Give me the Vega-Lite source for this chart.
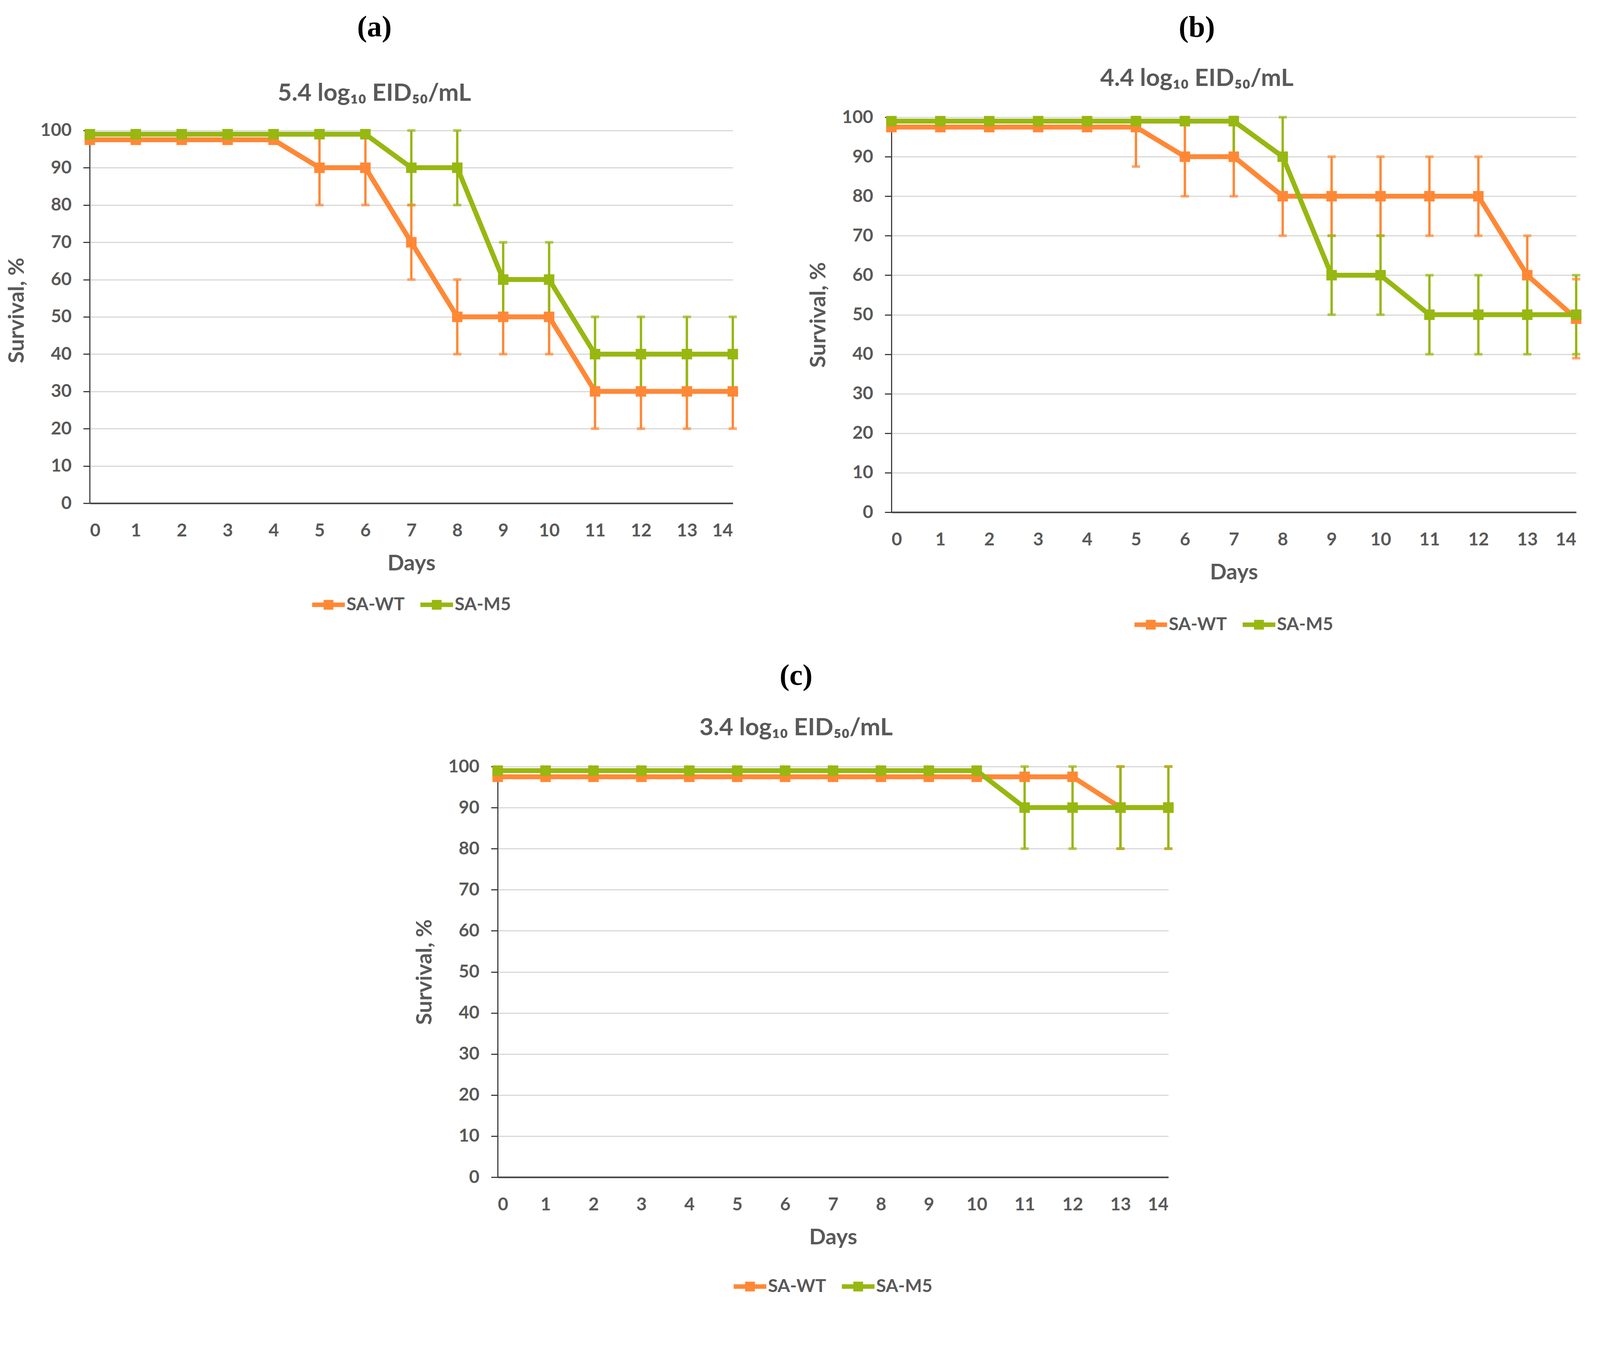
{
  "$schema": "https://vega.github.io/schema/vega-lite/v6.json",
  "padding": {"left": 15, "top": 32, "right": 10, "bottom": 10},
  "background": "white",
  "datasets": {
    "lines": [
      {"panel": "a", "series": "SA-WT", "day": 0, "value": 97.5},
      {"panel": "a", "series": "SA-WT", "day": 1, "value": 97.5},
      {"panel": "a", "series": "SA-WT", "day": 2, "value": 97.5},
      {"panel": "a", "series": "SA-WT", "day": 3, "value": 97.5},
      {"panel": "a", "series": "SA-WT", "day": 4, "value": 97.5},
      {"panel": "a", "series": "SA-WT", "day": 5, "value": 90},
      {"panel": "a", "series": "SA-WT", "day": 6, "value": 90},
      {"panel": "a", "series": "SA-WT", "day": 7, "value": 70},
      {"panel": "a", "series": "SA-WT", "day": 8, "value": 50},
      {"panel": "a", "series": "SA-WT", "day": 9, "value": 50},
      {"panel": "a", "series": "SA-WT", "day": 10, "value": 50},
      {"panel": "a", "series": "SA-WT", "day": 11, "value": 30},
      {"panel": "a", "series": "SA-WT", "day": 12, "value": 30},
      {"panel": "a", "series": "SA-WT", "day": 13, "value": 30},
      {"panel": "a", "series": "SA-WT", "day": 14, "value": 30},
      {"panel": "a", "series": "SA-M5", "day": 0, "value": 99},
      {"panel": "a", "series": "SA-M5", "day": 1, "value": 99},
      {"panel": "a", "series": "SA-M5", "day": 2, "value": 99},
      {"panel": "a", "series": "SA-M5", "day": 3, "value": 99},
      {"panel": "a", "series": "SA-M5", "day": 4, "value": 99},
      {"panel": "a", "series": "SA-M5", "day": 5, "value": 99},
      {"panel": "a", "series": "SA-M5", "day": 6, "value": 99},
      {"panel": "a", "series": "SA-M5", "day": 7, "value": 90},
      {"panel": "a", "series": "SA-M5", "day": 8, "value": 90},
      {"panel": "a", "series": "SA-M5", "day": 9, "value": 60},
      {"panel": "a", "series": "SA-M5", "day": 10, "value": 60},
      {"panel": "a", "series": "SA-M5", "day": 11, "value": 40},
      {"panel": "a", "series": "SA-M5", "day": 12, "value": 40},
      {"panel": "a", "series": "SA-M5", "day": 13, "value": 40},
      {"panel": "a", "series": "SA-M5", "day": 14, "value": 40},
      {"panel": "b", "series": "SA-WT", "day": 0, "value": 97.5},
      {"panel": "b", "series": "SA-WT", "day": 1, "value": 97.5},
      {"panel": "b", "series": "SA-WT", "day": 2, "value": 97.5},
      {"panel": "b", "series": "SA-WT", "day": 3, "value": 97.5},
      {"panel": "b", "series": "SA-WT", "day": 4, "value": 97.5},
      {"panel": "b", "series": "SA-WT", "day": 5, "value": 97.5},
      {"panel": "b", "series": "SA-WT", "day": 6, "value": 90},
      {"panel": "b", "series": "SA-WT", "day": 7, "value": 90},
      {"panel": "b", "series": "SA-WT", "day": 8, "value": 80},
      {"panel": "b", "series": "SA-WT", "day": 9, "value": 80},
      {"panel": "b", "series": "SA-WT", "day": 10, "value": 80},
      {"panel": "b", "series": "SA-WT", "day": 11, "value": 80},
      {"panel": "b", "series": "SA-WT", "day": 12, "value": 80},
      {"panel": "b", "series": "SA-WT", "day": 13, "value": 60},
      {"panel": "b", "series": "SA-WT", "day": 14, "value": 49},
      {"panel": "b", "series": "SA-M5", "day": 0, "value": 99},
      {"panel": "b", "series": "SA-M5", "day": 1, "value": 99},
      {"panel": "b", "series": "SA-M5", "day": 2, "value": 99},
      {"panel": "b", "series": "SA-M5", "day": 3, "value": 99},
      {"panel": "b", "series": "SA-M5", "day": 4, "value": 99},
      {"panel": "b", "series": "SA-M5", "day": 5, "value": 99},
      {"panel": "b", "series": "SA-M5", "day": 6, "value": 99},
      {"panel": "b", "series": "SA-M5", "day": 7, "value": 99},
      {"panel": "b", "series": "SA-M5", "day": 8, "value": 90},
      {"panel": "b", "series": "SA-M5", "day": 9, "value": 60},
      {"panel": "b", "series": "SA-M5", "day": 10, "value": 60},
      {"panel": "b", "series": "SA-M5", "day": 11, "value": 50},
      {"panel": "b", "series": "SA-M5", "day": 12, "value": 50},
      {"panel": "b", "series": "SA-M5", "day": 13, "value": 50},
      {"panel": "b", "series": "SA-M5", "day": 14, "value": 50},
      {"panel": "c", "series": "SA-WT", "day": 0, "value": 97.5},
      {"panel": "c", "series": "SA-WT", "day": 1, "value": 97.5},
      {"panel": "c", "series": "SA-WT", "day": 2, "value": 97.5},
      {"panel": "c", "series": "SA-WT", "day": 3, "value": 97.5},
      {"panel": "c", "series": "SA-WT", "day": 4, "value": 97.5},
      {"panel": "c", "series": "SA-WT", "day": 5, "value": 97.5},
      {"panel": "c", "series": "SA-WT", "day": 6, "value": 97.5},
      {"panel": "c", "series": "SA-WT", "day": 7, "value": 97.5},
      {"panel": "c", "series": "SA-WT", "day": 8, "value": 97.5},
      {"panel": "c", "series": "SA-WT", "day": 9, "value": 97.5},
      {"panel": "c", "series": "SA-WT", "day": 10, "value": 97.5},
      {"panel": "c", "series": "SA-WT", "day": 11, "value": 97.5},
      {"panel": "c", "series": "SA-WT", "day": 12, "value": 97.5},
      {"panel": "c", "series": "SA-WT", "day": 13, "value": 90},
      {"panel": "c", "series": "SA-WT", "day": 14, "value": 90},
      {"panel": "c", "series": "SA-M5", "day": 0, "value": 99},
      {"panel": "c", "series": "SA-M5", "day": 1, "value": 99},
      {"panel": "c", "series": "SA-M5", "day": 2, "value": 99},
      {"panel": "c", "series": "SA-M5", "day": 3, "value": 99},
      {"panel": "c", "series": "SA-M5", "day": 4, "value": 99},
      {"panel": "c", "series": "SA-M5", "day": 5, "value": 99},
      {"panel": "c", "series": "SA-M5", "day": 6, "value": 99},
      {"panel": "c", "series": "SA-M5", "day": 7, "value": 99},
      {"panel": "c", "series": "SA-M5", "day": 8, "value": 99},
      {"panel": "c", "series": "SA-M5", "day": 9, "value": 99},
      {"panel": "c", "series": "SA-M5", "day": 10, "value": 99},
      {"panel": "c", "series": "SA-M5", "day": 11, "value": 90},
      {"panel": "c", "series": "SA-M5", "day": 12, "value": 90},
      {"panel": "c", "series": "SA-M5", "day": 13, "value": 90},
      {"panel": "c", "series": "SA-M5", "day": 14, "value": 90}
    ],
    "errs": [
      {"panel": "a", "series": "SA-WT", "day": 5, "lo": 80, "hi": 100},
      {"panel": "a", "series": "SA-WT", "day": 6, "lo": 80, "hi": 100},
      {"panel": "a", "series": "SA-WT", "day": 7, "lo": 60, "hi": 80},
      {"panel": "a", "series": "SA-WT", "day": 8, "lo": 40, "hi": 60},
      {"panel": "a", "series": "SA-WT", "day": 9, "lo": 40, "hi": 60},
      {"panel": "a", "series": "SA-WT", "day": 10, "lo": 40, "hi": 60},
      {"panel": "a", "series": "SA-WT", "day": 11, "lo": 20, "hi": 40},
      {"panel": "a", "series": "SA-WT", "day": 12, "lo": 20, "hi": 40},
      {"panel": "a", "series": "SA-WT", "day": 13, "lo": 20, "hi": 40},
      {"panel": "a", "series": "SA-WT", "day": 14, "lo": 20, "hi": 40},
      {"panel": "a", "series": "SA-M5", "day": 7, "lo": 80, "hi": 100},
      {"panel": "a", "series": "SA-M5", "day": 8, "lo": 80, "hi": 100},
      {"panel": "a", "series": "SA-M5", "day": 9, "lo": 50, "hi": 70},
      {"panel": "a", "series": "SA-M5", "day": 10, "lo": 50, "hi": 70},
      {"panel": "a", "series": "SA-M5", "day": 11, "lo": 30, "hi": 50},
      {"panel": "a", "series": "SA-M5", "day": 12, "lo": 30, "hi": 50},
      {"panel": "a", "series": "SA-M5", "day": 13, "lo": 30, "hi": 50},
      {"panel": "a", "series": "SA-M5", "day": 14, "lo": 30, "hi": 50},
      {"panel": "b", "series": "SA-WT", "day": 5, "lo": 87.5, "hi": 100},
      {"panel": "b", "series": "SA-WT", "day": 6, "lo": 80, "hi": 100},
      {"panel": "b", "series": "SA-WT", "day": 7, "lo": 80, "hi": 100},
      {"panel": "b", "series": "SA-WT", "day": 8, "lo": 70, "hi": 90},
      {"panel": "b", "series": "SA-WT", "day": 9, "lo": 70, "hi": 90},
      {"panel": "b", "series": "SA-WT", "day": 10, "lo": 70, "hi": 90},
      {"panel": "b", "series": "SA-WT", "day": 11, "lo": 70, "hi": 90},
      {"panel": "b", "series": "SA-WT", "day": 12, "lo": 70, "hi": 90},
      {"panel": "b", "series": "SA-WT", "day": 13, "lo": 50, "hi": 70},
      {"panel": "b", "series": "SA-WT", "day": 14, "lo": 39, "hi": 59},
      {"panel": "b", "series": "SA-M5", "day": 7, "lo": 89, "hi": 100},
      {"panel": "b", "series": "SA-M5", "day": 8, "lo": 80, "hi": 100},
      {"panel": "b", "series": "SA-M5", "day": 9, "lo": 50, "hi": 70},
      {"panel": "b", "series": "SA-M5", "day": 10, "lo": 50, "hi": 70},
      {"panel": "b", "series": "SA-M5", "day": 11, "lo": 40, "hi": 60},
      {"panel": "b", "series": "SA-M5", "day": 12, "lo": 40, "hi": 60},
      {"panel": "b", "series": "SA-M5", "day": 13, "lo": 40, "hi": 60},
      {"panel": "b", "series": "SA-M5", "day": 14, "lo": 40, "hi": 60},
      {"panel": "c", "series": "SA-WT", "day": 13, "lo": 80, "hi": 100},
      {"panel": "c", "series": "SA-WT", "day": 14, "lo": 80, "hi": 100},
      {"panel": "c", "series": "SA-M5", "day": 11, "lo": 80, "hi": 100},
      {"panel": "c", "series": "SA-M5", "day": 12, "lo": 80, "hi": 100},
      {"panel": "c", "series": "SA-M5", "day": 13, "lo": 80, "hi": 100},
      {"panel": "c", "series": "SA-M5", "day": 14, "lo": 80, "hi": 100}
    ]
  },
  "config": {
    "font": "Lato",
    "view": {"stroke": null},
    "axis": {
      "labelFont": "Lato", "labelFontWeight": "bold", "labelFontSize": 46, "labelColor": "#595959",
      "titleFont": "Lato", "titleFontWeight": "bold", "titleFontSize": 56, "titleColor": "#595959",
      "domainColor": "#404040", "domainWidth": 3, "tickColor": "#404040", "tickWidth": 3,
      "gridColor": "#D9D9D9", "gridWidth": 3
    },
    "axisX": {"grid": false, "ticks": false, "labelPadding": 48, "titlePadding": 34, "domainWidth": 4},
    "axisY": {"tickSize": 17, "labelPadding": 30, "titlePadding": 30},
    "legend": {
      "orient": "bottom", "direction": "horizontal",
      "layout": {"anchor": "middle", "bottom": {"anchor": "middle"}},
      "labelFont": "Lato", "labelFontWeight": "bold", "labelFontSize": 46, "labelColor": "#595959",
      "symbolType": "M-1,-0.14H1V0.14H-1Z M-0.3,-0.3H0.3V0.3H-0.3Z",
      "symbolSize": 7000, "symbolStrokeWidth": 0, "symbolOpacity": 1, "labelOffset": 4, "columnPadding": 40
    },
    "title": {
      "font": "Liberation Serif", "fontSize": 76, "fontWeight": "bold", "color": "#000000",
      "subtitleFont": "Lato", "subtitleFontSize": 62, "subtitleFontWeight": "bold", "subtitleColor": "#595959",
      "frame": "bounds", "anchor": "middle"
    }
  },
  "resolve": {"scale": {"color": "independent", "x": "independent", "y": "independent"}},
  "spacing": 70,
  "center": true,
  "vconcat": [
    {
      "spacing": 166,
      "resolve": {"scale": {"color": "independent", "x": "independent", "y": "independent"}},
      "hconcat": [
        {
          "width": 1646, "height": 988,
          "title": {"text": "(a)", "subtitle": "5.4 log₁₀ EID₅₀/mL", "subtitlePadding": 100, "offset": 29},
          "encoding": {
            "x": {"field": "day", "type": "quantitative", "title": "Days", "scale": {"domain": [0, 14], "nice": false}, "axis": {"values": [0,1,2,3,4,5,6,7,8,9,10,11,12,13,14]}},
            "color": {"field": "series", "type": "nominal", "title": null, "scale": {"domain": ["SA-WT", "SA-M5"], "range": ["#FF8836", "#97B711"]}, "legend": {"offset": 36}}
          },
          "layer": [
            {"data": {"name": "errs"}, "transform": [{"filter": "datum.panel === 'a'"}], "mark": {"type": "rule", "strokeWidth": 6}, "encoding": {"y": {"field": "lo", "type": "quantitative", "title": "Survival, %", "scale": {"domain": [0, 103.56], "nice": false, "zero": false}, "axis": {"values": [0,10,20,30,40,50,60,70,80,90,100], "domain": false}}, "y2": {"field": "hi"}}},
            {"data": {"name": "errs"}, "transform": [{"filter": "datum.panel === 'a'"}], "mark": {"type": "tick", "orient": "horizontal", "size": 21, "thickness": 7}, "encoding": {"y": {"field": "lo", "type": "quantitative"}}},
            {"data": {"name": "errs"}, "transform": [{"filter": "datum.panel === 'a'"}], "mark": {"type": "tick", "orient": "horizontal", "size": 21, "thickness": 7}, "encoding": {"y": {"field": "hi", "type": "quantitative"}}},
            {"data": {"values": [{"day": 0, "lo": 0, "hi": 100}]}, "mark": {"type": "rule", "strokeWidth": 3}, "encoding": {"y": {"field": "lo", "type": "quantitative"}, "y2": {"field": "hi"}, "color": {"value": "#404040"}}},
            {"data": {"name": "lines"}, "transform": [{"filter": "datum.panel === 'a'"}], "mark": {"type": "line", "strokeWidth": 12.5}, "encoding": {"y": {"field": "value", "type": "quantitative"}}},
            {"data": {"name": "lines"}, "transform": [{"filter": "datum.panel === 'a'"}], "mark": {"type": "point", "shape": "square", "filled": true, "size": 720, "opacity": 1}, "encoding": {"y": {"field": "value", "type": "quantitative"}}}
          ]
        },
        {
          "width": 1753, "height": 1011,
          "title": {"text": "(b)", "subtitle": "4.4 log₁₀ EID₅₀/mL", "subtitlePadding": 61, "offset": 44},
          "encoding": {
            "x": {"field": "day", "type": "quantitative", "title": "Days", "scale": {"domain": [0, 14], "nice": false}, "axis": {"values": [0,1,2,3,4,5,6,7,8,9,10,11,12,13,14]}},
            "color": {"field": "series", "type": "nominal", "title": null, "scale": {"domain": ["SA-WT", "SA-M5"], "range": ["#FF8836", "#97B711"]}, "legend": {"offset": 64}}
          },
          "layer": [
            {"data": {"name": "errs"}, "transform": [{"filter": "datum.panel === 'b'"}], "mark": {"type": "rule", "strokeWidth": 6}, "encoding": {"y": {"field": "lo", "type": "quantitative", "title": "Survival, %", "scale": {"domain": [0, 100], "nice": false}, "axis": {"values": [0,10,20,30,40,50,60,70,80,90,100]}}, "y2": {"field": "hi"}}},
            {"data": {"name": "errs"}, "transform": [{"filter": "datum.panel === 'b'"}], "mark": {"type": "tick", "orient": "horizontal", "size": 21, "thickness": 7}, "encoding": {"y": {"field": "lo", "type": "quantitative"}}},
            {"data": {"name": "errs"}, "transform": [{"filter": "datum.panel === 'b'"}], "mark": {"type": "tick", "orient": "horizontal", "size": 21, "thickness": 7}, "encoding": {"y": {"field": "hi", "type": "quantitative"}}},
            {"data": {"name": "lines"}, "transform": [{"filter": "datum.panel === 'b'"}], "mark": {"type": "line", "strokeWidth": 12.5}, "encoding": {"y": {"field": "value", "type": "quantitative"}}},
            {"data": {"name": "lines"}, "transform": [{"filter": "datum.panel === 'b'"}], "mark": {"type": "point", "shape": "square", "filled": true, "size": 720, "opacity": 1}, "encoding": {"y": {"field": "value", "type": "quantitative"}}}
          ]
        }
      ]
    },
    {
      "width": 1717, "height": 1051,
      "title": {"text": "(c)", "subtitle": "3.4 log₁₀ EID₅₀/mL", "subtitlePadding": 64, "offset": 44},
      "encoding": {
        "x": {"field": "day", "type": "quantitative", "title": "Days", "scale": {"domain": [0, 14], "nice": false}, "axis": {"values": [0,1,2,3,4,5,6,7,8,9,10,11,12,13,14]}},
        "color": {"field": "series", "type": "nominal", "title": null, "scale": {"domain": ["SA-WT", "SA-M5"], "range": ["#FF8836", "#97B711"]}, "legend": {"offset": 56}}
      },
      "layer": [
        {"data": {"name": "errs"}, "transform": [{"filter": "datum.panel === 'c'"}], "mark": {"type": "rule", "strokeWidth": 6}, "encoding": {"y": {"field": "lo", "type": "quantitative", "title": "Survival, %", "scale": {"domain": [0, 100], "nice": false}, "axis": {"values": [0,10,20,30,40,50,60,70,80,90,100]}}, "y2": {"field": "hi"}}},
        {"data": {"name": "errs"}, "transform": [{"filter": "datum.panel === 'c'"}], "mark": {"type": "tick", "orient": "horizontal", "size": 21, "thickness": 7}, "encoding": {"y": {"field": "lo", "type": "quantitative"}}},
        {"data": {"name": "errs"}, "transform": [{"filter": "datum.panel === 'c'"}], "mark": {"type": "tick", "orient": "horizontal", "size": 21, "thickness": 7}, "encoding": {"y": {"field": "hi", "type": "quantitative"}}},
        {"data": {"name": "lines"}, "transform": [{"filter": "datum.panel === 'c'"}], "mark": {"type": "line", "strokeWidth": 12.5}, "encoding": {"y": {"field": "value", "type": "quantitative"}}},
        {"data": {"name": "lines"}, "transform": [{"filter": "datum.panel === 'c'"}], "mark": {"type": "point", "shape": "square", "filled": true, "size": 720, "opacity": 1}, "encoding": {"y": {"field": "value", "type": "quantitative"}}}
      ]
    }
  ]
}
